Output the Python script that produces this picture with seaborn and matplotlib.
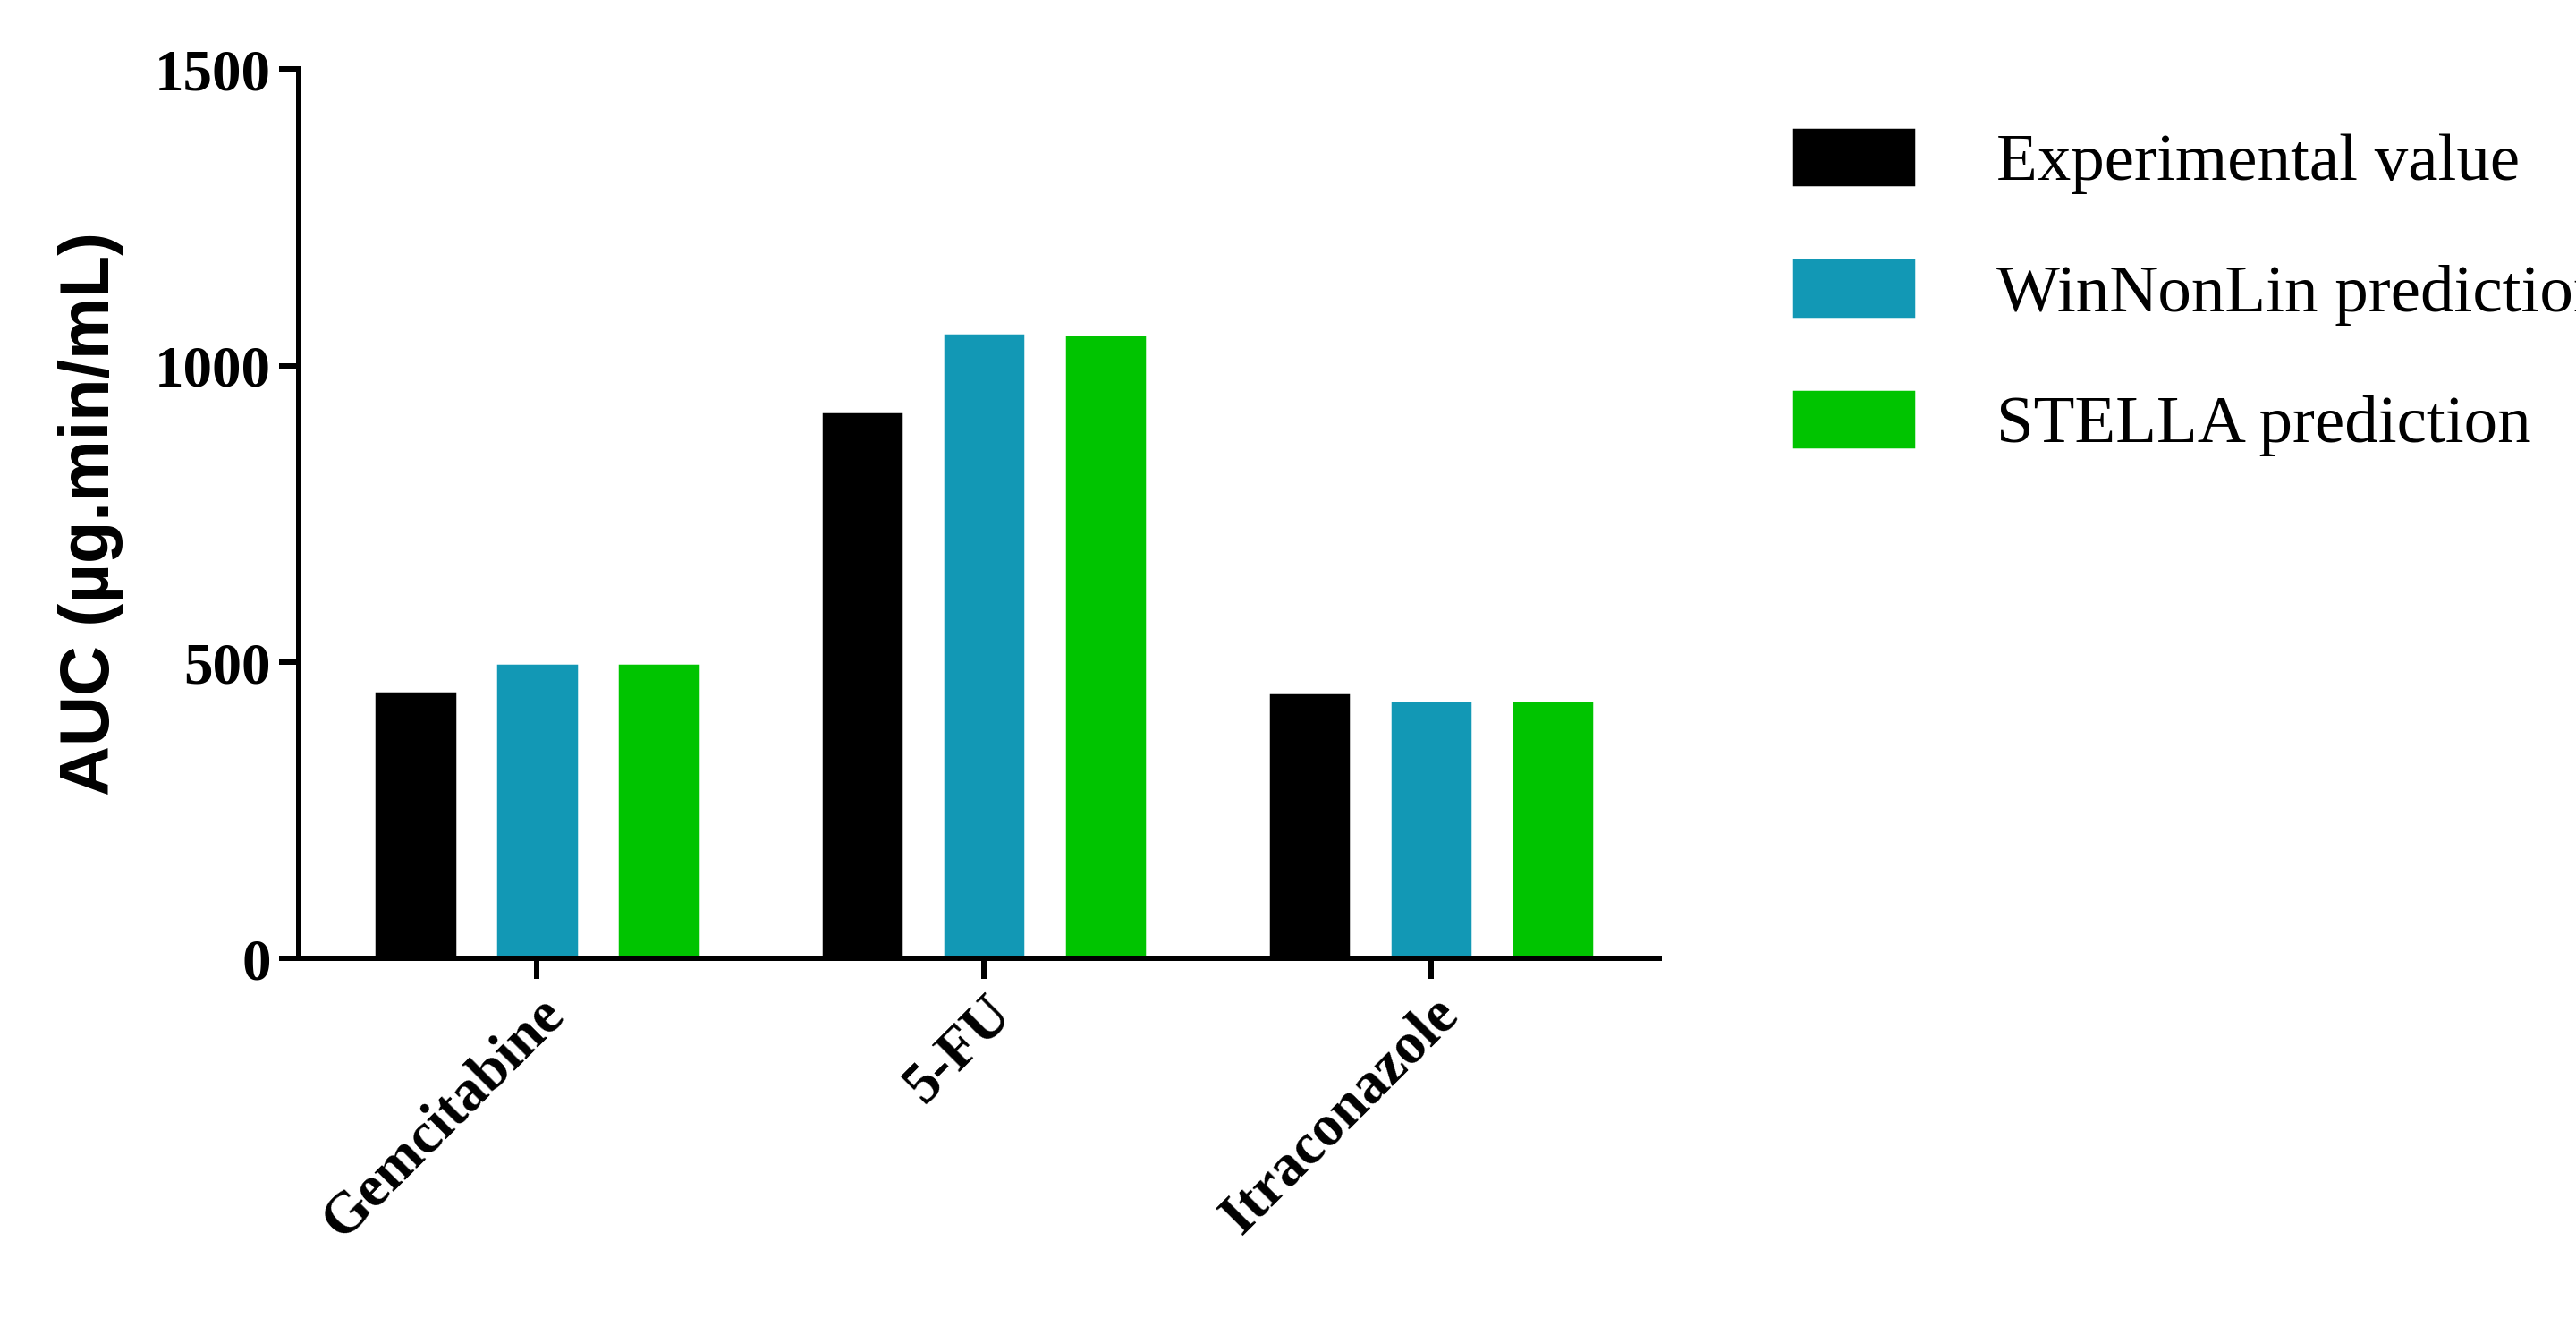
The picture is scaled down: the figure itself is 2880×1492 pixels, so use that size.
import matplotlib
matplotlib.use('Agg')
import matplotlib.pyplot as plt
import seaborn as sns
import pandas as pd

drugs = ["Gemcitabine", "5-FU", "Itraconazole"]
series = ["Experimental value", "WinNonLin prediction", "STELLA prediction"]
experimental = [452, 922, 449]
winnonlin = [499, 1056, 435]
stella = [498, 1053, 435]
colors = ["#000000", "#1298b5", "#00c400"]

rows = []
for name, vals in zip(series, [experimental, winnonlin, stella]):
    for d, v in zip(drugs, vals):
        rows.append({"drug": d, "series": name, "auc": v})
df = pd.DataFrame(rows)

sns.set_style("ticks")
plt.rcParams['text.color'] = 'black'
fig = plt.figure(figsize=(16, 8.29), dpi=180)
ax = fig.add_axes([0.116, 0.282, 0.528, 0.666])
sns.barplot(data=df, x="drug", y="auc", hue="series", palette=colors,
            width=0.816, gap=0.32, saturation=1, ax=ax, legend=True)

ax.set_xlim(-0.533, 2.51)
ax.set_ylim(0, 1500)
ax.set_yticks([0, 500, 1000, 1500])
ax.spines[['top', 'right']].set_visible(False)
for s in ['left', 'bottom']:
    ax.spines[s].set_linewidth(2.4)
    ax.spines[s].set_color('black')
ax.tick_params(axis='both', width=2.4, length=9, direction='out', colors='black')
serif = {'family': 'Liberation Serif', 'weight': 'bold', 'size': 26, 'color': 'black'}
ax.set_yticklabels(["0", "500", "1000", "1500"], fontdict=serif)
ax.set_xticklabels(drugs, fontdict=serif, rotation=45, ha='right', rotation_mode='anchor')
ax.set_xlabel("")
ax.set_ylabel("AUC (µg.min/mL)", family='Liberation Sans', weight='bold', size=31,
              labelpad=14, color='black')

handles, labels = ax.get_legend_handles_labels()
ax.legend_.remove()
fig.legend(handles, labels, loc='upper left', bbox_to_anchor=(0.672, 0.95),
           frameon=False, prop={'family': 'Liberation Serif', 'size': 30},
           handlelength=1.85, handleheight=1.0, labelspacing=0.95, handletextpad=1.2)

fig.savefig("out.png", dpi=180, facecolor='white')
